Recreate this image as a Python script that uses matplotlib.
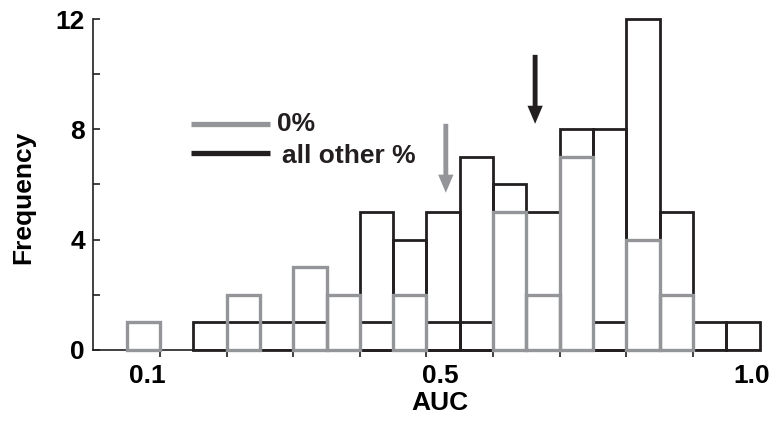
import numpy as np
import matplotlib
matplotlib.use("Agg")
import matplotlib.pyplot as plt
import matplotlib.transforms as mtransforms

# AUC bins (width 0.05) and counts
bin_edges = np.arange(0.05, 1.0001, 0.05)
zero_pct = [1, 0, 0, 2, 0, 3, 2, 0, 2, 0, 0, 5, 2, 7, 0, 4, 2, 0, 0]
other_pct = [0, 0, 1, 1, 1, 1, 0, 5, 4, 5, 7, 6, 5, 8, 8, 12, 5, 1, 1]
other_inner = [0, 0, 0, 0, 0, 0, 0, 1, 0, 1, 1, 0, 0, 0, 1, 0, 0, 0, 0]

# mean markers (x, arrow top, arrow tip)
mean_zero = (0.529, 8.2, 5.7)
mean_other = (0.663, 10.7, 8.2)

legend_labels = ["0%", "all other %"]
xtick_vals = [0.1, 0.5, 1.0]
xtick_labels = ["0.1", "0.5", "1.0"]

GRAY = "#939598"
BLACK = "#231f20"
FS = 19

plt.rcParams["font.family"] = ["Liberation Sans", "DejaVu Sans"]
plt.rcParams["font.weight"] = "bold"

fig = plt.figure(figsize=(7.84, 4.32), dpi=100)
ax = fig.add_axes([0.119, 0.190, 0.850, 0.766])

centers = (bin_edges[:-1] + bin_edges[1:]) / 2
w = bin_edges[1] - bin_edges[0]


def draw_bars(counts, color, lw, z):
    counts = np.array(counts)
    m = counts > 0
    ax.bar(centers[m], counts[m], width=w, fill=False, edgecolor=color,
           linewidth=lw, zorder=z, clip_on=False)


draw_bars(other_pct, BLACK, 2.0, 2)
draw_bars(other_inner, BLACK, 2.0, 2)
draw_bars(zero_pct, GRAY, 2.4, 3)

# arrows for the means
ax.annotate("", xy=(mean_zero[0], mean_zero[2]), xytext=(mean_zero[0], mean_zero[1]),
            arrowprops=dict(width=3.5, headwidth=11, headlength=13, color=GRAY, lw=0))
ax.annotate("", xy=(mean_other[0], mean_other[2]), xytext=(mean_other[0], mean_other[1]),
            arrowprops=dict(width=3.5, headwidth=11, headlength=13, color=BLACK, lw=0))

# hand-made legend
ax.plot([0.147, 0.265], [0.683, 0.683], color=GRAY, lw=3.8, transform=ax.transAxes,
        solid_capstyle="butt", clip_on=False)
ax.plot([0.147, 0.265], [0.595, 0.595], color=BLACK, lw=3.8, transform=ax.transAxes,
        solid_capstyle="butt", clip_on=False)
ax.text(0.276, 0.683, legend_labels[0], transform=ax.transAxes, fontsize=FS,
        fontweight="bold", va="center", color=BLACK)
ax.text(0.283, 0.585, legend_labels[1], transform=ax.transAxes, fontsize=FS,
        fontweight="bold", va="center", color=BLACK)

ax.set_xlim(0, 1.0)
ax.set_ylim(0, 12)

for s in ["top", "right"]:
    ax.spines[s].set_visible(False)
for s in ["left", "bottom"]:
    ax.spines[s].set_linewidth(1.2)
    ax.spines[s].set_color(BLACK)

ax.set_yticks([0, 4, 8, 12])
ax.set_yticks([2, 6, 10], minor=True)
ax.set_xticks(xtick_vals)
ax.set_xticklabels(xtick_labels)
ax.set_xticks([0.2, 0.3, 0.4, 0.6, 0.7, 0.8, 0.9], minor=True)
ax.xaxis.get_major_ticks()[2].tick1line.set_visible(False)
ax.tick_params(which="both", length=5, width=1.2, color=BLACK, labelsize=FS)
ax.tick_params(axis="x", which="both", direction="out", pad=5)
ax.tick_params(axis="y", which="both", direction="in", pad=6)
for lab in ax.get_xticklabels() + ax.get_yticklabels():
    lab.set_fontweight("bold")

# the labels in the original sit a little off their ticks
shifts = [-13, 14, -8]
for lab, dx in zip(ax.get_xticklabels(), shifts):
    lab.set_transform(lab.get_transform() +
                      mtransforms.ScaledTranslation(dx / 100, 0, fig.dpi_scale_trans))

ax.set_xlabel("AUC", fontsize=FS, fontweight="bold")
ax.xaxis.set_label_coords(0.52, -0.125)
ax.xaxis.label.set_va("top")
ax.set_ylabel("Frequency", fontsize=FS, fontweight="bold")
ax.yaxis.set_label_coords(-0.087, 0.46)

fig.savefig("out.png", dpi=100)
